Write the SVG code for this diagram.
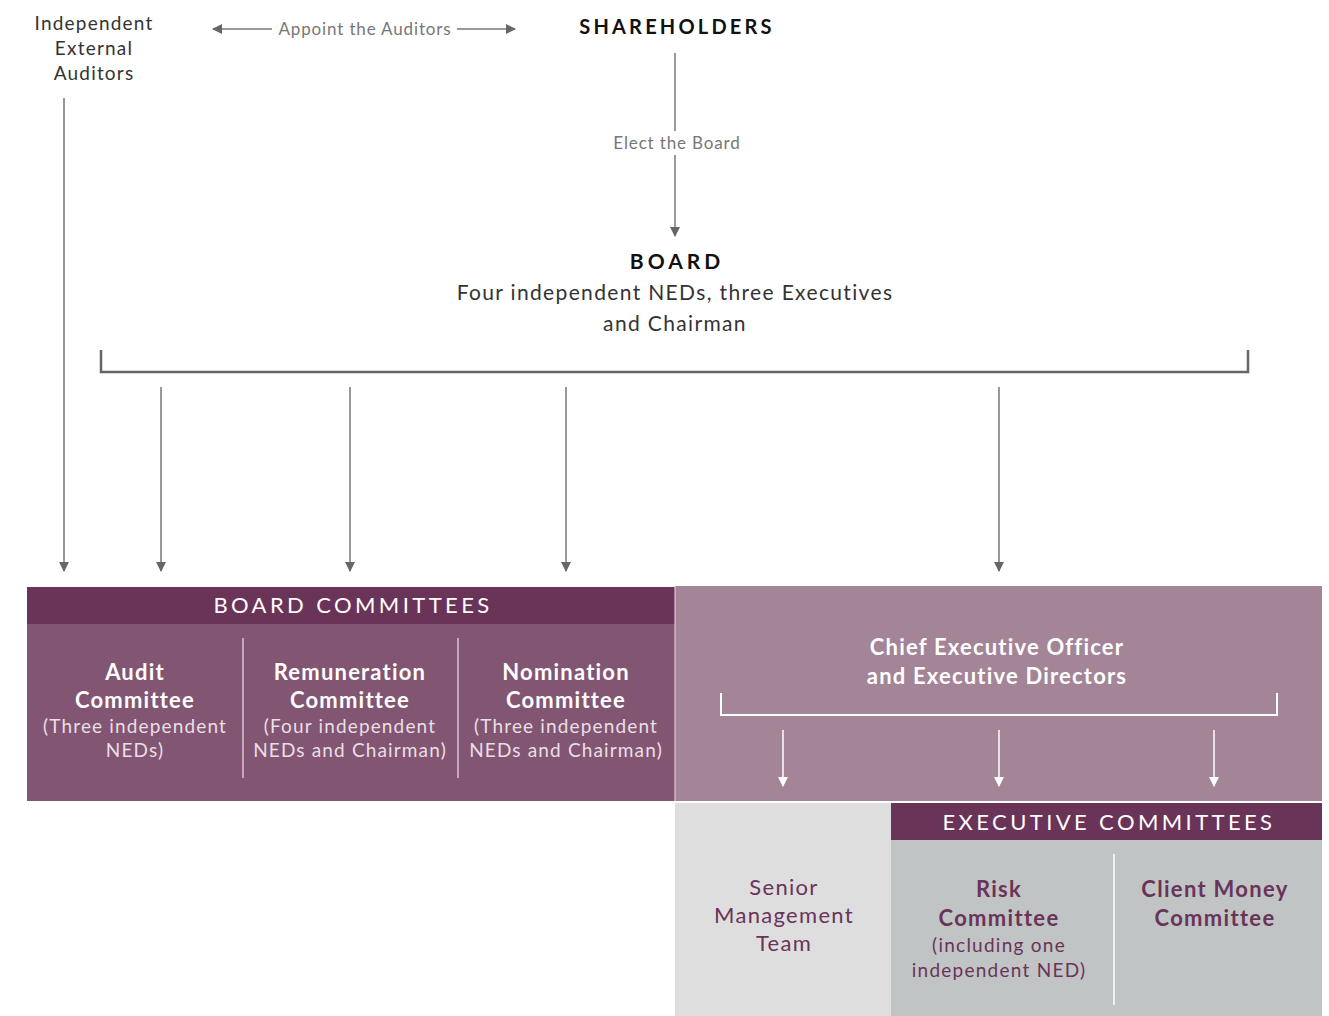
<svg xmlns="http://www.w3.org/2000/svg" width="1329" height="1016" viewBox="0 0 1329 1016">
<defs>
<marker id="ag" viewBox="0 0 10 10" refX="9" refY="5" markerWidth="10" markerHeight="10" markerUnits="userSpaceOnUse" orient="auto"><path d="M0,0 L10,5 L0,10 z" fill="#666"/></marker>
<marker id="aw" viewBox="0 0 10 10" refX="9" refY="5" markerWidth="10" markerHeight="10" markerUnits="userSpaceOnUse" orient="auto"><path d="M0,0 L10,5 L0,10 z" fill="#fff"/></marker>
</defs>
<style>
text{font-family:Lato,"Noto Sans","Liberation Sans",sans-serif;text-anchor:middle}
.dk{fill:#333;font-size:19px;letter-spacing:1.2px}
.gr{fill:#777;font-size:17px;letter-spacing:0.85px}
.hd{fill:#111;font-size:20px;font-weight:bold;letter-spacing:3.2px}
.bd{fill:#333;font-size:21px;letter-spacing:1.35px}
.wh{fill:#fff;font-size:22px;font-weight:bold;letter-spacing:1.2px}
.wl{fill:#eadfe6;font-size:19px;letter-spacing:1.15px}
.cap{fill:#fff;font-size:22px;letter-spacing:3.4px}
.pb{fill:#6a3358;font-size:22px;font-weight:bold;letter-spacing:1.3px}
.pr{fill:#6a3358;font-size:22px;letter-spacing:1.3px}
.pl{fill:#6a3358;font-size:19px;letter-spacing:1.25px}
.ln{stroke:#777;stroke-width:1.5;fill:none}
.wln{stroke:#fff;stroke-width:1.5;fill:none}
</style>
<rect width="1329" height="1016" fill="#fff"/>

<g id="auditors">
<text class="dk" x="94" y="30">Independent</text>
<text class="dk" x="94" y="55">External</text>
<text class="dk" x="94" y="80">Auditors</text>
</g>
<g id="shareholders"><text class="hd" x="677" y="34">SHAREHOLDERS</text></g>
<g id="board">
<text class="hd" x="677" y="269" style="font-size:21px;letter-spacing:4px">BOARD</text>
<text class="bd" x="675" y="300">Four independent NEDs, three Executives</text>
<text class="bd" x="675" y="331">and Chairman</text>
</g>

<g id="board-committees">
<rect x="27" y="587" width="648" height="37" fill="#6a3358"/>
<rect x="27" y="624" width="648" height="177" fill="#825672"/>
<text class="cap" x="353" y="613">BOARD COMMITTEES</text>
<line x1="243" y1="638" x2="243" y2="778" stroke="#d9c6d2" stroke-width="1.5"/>
<line x1="458" y1="638" x2="458" y2="778" stroke="#d9c6d2" stroke-width="1.5"/>
</g>
<g id="audit">
<text class="wh" x="135" y="680">Audit</text>
<text class="wh" x="135" y="708">Committee</text>
<text class="wl" x="135" y="733">(Three independent</text>
<text class="wl" x="135" y="757">NEDs)</text>
</g>
<g id="remuneration">
<text class="wh" x="350" y="680">Remuneration</text>
<text class="wh" x="350" y="708">Committee</text>
<text class="wl" x="350" y="733">(Four independent</text>
<text class="wl" x="350" y="757">NEDs and Chairman)</text>
</g>
<g id="nomination">
<text class="wh" x="566" y="680">Nomination</text>
<text class="wh" x="566" y="708">Committee</text>
<text class="wl" x="566" y="733">(Three independent</text>
<text class="wl" x="566" y="757">NEDs and Chairman)</text>
</g>

<g id="ceo">
<rect x="675" y="586" width="647" height="215" fill="#a48497"/>
<line x1="675" y1="586" x2="675" y2="801" stroke="#e8dde4" stroke-width="1"/>
<text class="wh" x="997" y="655">Chief Executive Officer</text>
<text class="wh" x="997" y="684">and Executive Directors</text>
</g>

<g id="senior-management">
<rect x="675" y="803" width="216" height="213" fill="#dedede"/>
<text class="pr" x="784" y="895">Senior</text>
<text class="pr" x="784" y="923">Management</text>
<text class="pr" x="784" y="951">Team</text>
</g>
<g id="executive-committees">
<rect x="891" y="803" width="431" height="37" fill="#6a3358"/>
<rect x="891" y="840" width="431" height="176" fill="#c1c4c5"/>
<text class="cap" x="1109" y="830">EXECUTIVE COMMITTEES</text>
<line x1="1114" y1="854" x2="1114" y2="1005" stroke="#fff" stroke-width="1.5"/>
</g>
<g id="risk">
<text class="pb" x="999" y="897">Risk</text>
<text class="pb" x="999" y="926">Committee</text>
<text class="pl" x="999" y="952">(including one</text>
<text class="pl" x="999" y="977">independent NED)</text>
</g>
<g id="client-money">
<text class="pb" x="1215" y="897">Client Money</text>
<text class="pb" x="1215" y="926">Committee</text>
</g>

<g id="connectors">
<line class="ln" x1="272" y1="29" x2="213" y2="29" marker-end="url(#ag)"/>
<text class="gr" x="365" y="35">Appoint the Auditors</text>
<line class="ln" x1="457" y1="29" x2="515" y2="29" marker-end="url(#ag)"/>
<line class="ln" x1="675" y1="53" x2="675" y2="131"/>
<text class="gr" x="677" y="149">Elect the Board</text>
<line class="ln" x1="675" y1="155" x2="675" y2="236" marker-end="url(#ag)"/>
<polyline points="101,350 101,372 1248,372 1248,350" fill="none" stroke="#666" stroke-width="2.5"/>
<line class="ln" x1="64" y1="98" x2="64" y2="571" marker-end="url(#ag)"/>
<line class="ln" x1="161" y1="387" x2="161" y2="571" marker-end="url(#ag)"/>
<line class="ln" x1="350" y1="387" x2="350" y2="571" marker-end="url(#ag)"/>
<line class="ln" x1="566" y1="387" x2="566" y2="571" marker-end="url(#ag)"/>
<line class="ln" x1="999" y1="387" x2="999" y2="571" marker-end="url(#ag)"/>
<polyline points="721,693 721,715 1277,715 1277,693" fill="none" stroke="#fff" stroke-width="2"/>
<line class="wln" x1="783" y1="730" x2="783" y2="786" marker-end="url(#aw)"/>
<line class="wln" x1="999" y1="730" x2="999" y2="786" marker-end="url(#aw)"/>
<line class="wln" x1="1214" y1="730" x2="1214" y2="786" marker-end="url(#aw)"/>
</g>
</svg>
